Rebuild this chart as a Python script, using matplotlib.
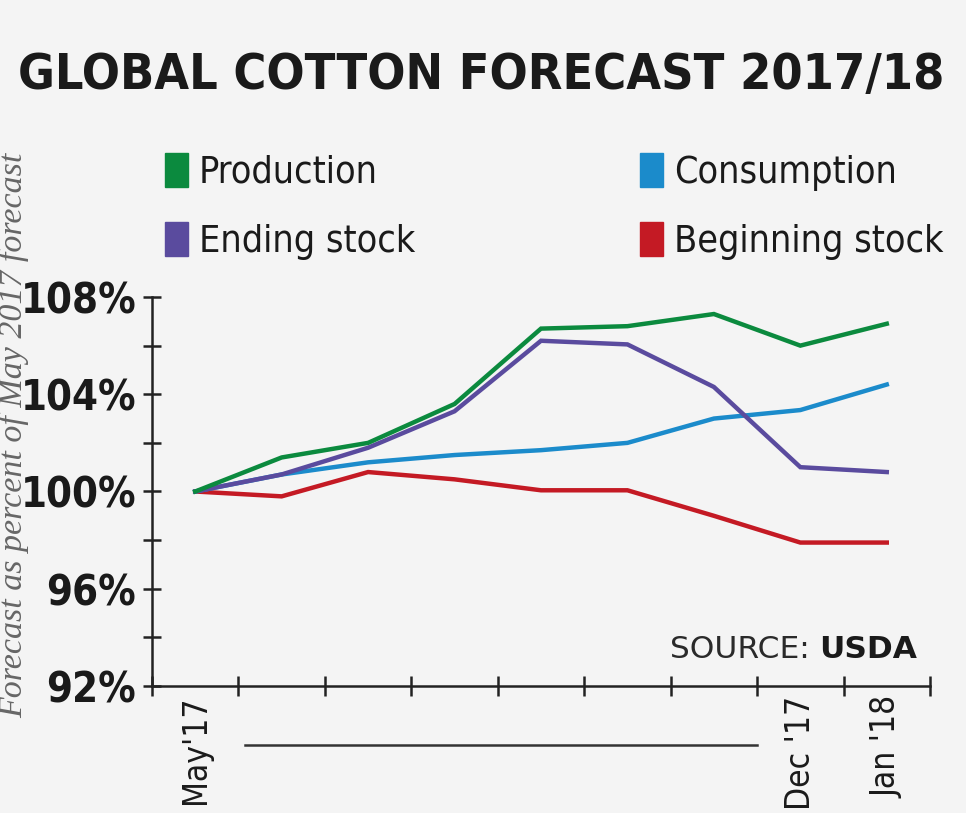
import matplotlib
matplotlib.use("Agg")
import matplotlib.pyplot as plt
from matplotlib.patches import Patch
from matplotlib.ticker import FixedLocator
import matplotlib.transforms as mtransforms

months = ["May'17", "Jun'17", "Jul'17", "Aug'17", "Sep'17", "Oct'17", "Nov'17", "Dec '17", "Jan '18"]
shown_labels = {0: "May'17", 7: "Dec '17", 8: "Jan '18"}

production = [100.0, 101.4, 102.0, 103.6, 106.7, 106.8, 107.3, 106.0, 106.9]
consumption = [100.0, 100.7, 101.2, 101.5, 101.7, 102.0, 103.0, 103.35, 104.4]
ending_stock = [100.0, 100.7, 101.8, 103.3, 106.2, 106.05, 104.3, 101.0, 100.8]
beginning_stock = [100.0, 99.8, 100.8, 100.5, 100.05, 100.05, 99.0, 97.9, 97.9]

colors = {"Production": "#0b8a3e", "Consumption": "#1b8bcb",
          "Ending stock": "#5a4b9e", "Beginning stock": "#c41a24"}

y_major = [92, 96, 100, 104, 108]
y_minor = [94, 98, 102, 106]

NARROW = "DejaVu Sans"
ST = "condensed"
BG = "#f4f4f4"

fig = plt.figure(figsize=(9.66, 8.13), dpi=100, facecolor=BG)
ax = fig.add_axes([152/966, 1-686/813, (930-152)/966, (686-297)/813])
ax.set_facecolor(BG)

x = list(range(len(months)))
data = {"Production": production, "Consumption": consumption,
        "Ending stock": ending_stock, "Beginning stock": beginning_stock}
for name in ["Beginning stock", "Consumption", "Ending stock", "Production"]:
    ax.plot(x, data[name], color=colors[name], lw=3.2, solid_joinstyle="miter", zorder=3)

ax.set_xlim(-0.5, len(months) - 0.5)
ax.set_ylim(92, 108)

for s in ["top", "right"]:
    ax.spines[s].set_visible(False)
for s in ["left", "bottom"]:
    ax.spines[s].set_linewidth(1.8)
    ax.spines[s].set_color("#222222")

ax.set_yticks(y_major)
ax.set_yticklabels([f"{v}%" for v in y_major])
ax.yaxis.set_minor_locator(FixedLocator(y_minor))
ax.tick_params(axis="y", which="both", direction="inout", length=13, width=1.8,
               color="#222222", pad=5)
for lab in ax.get_yticklabels():
    lab.set_fontfamily(NARROW)
    lab.set_fontstretch(ST)
    lab.set_fontweight("bold")
    lab.set_fontsize(30)
    lab.set_color("#1a1a1a")

bounds = [i - 0.5 for i in range(len(months) + 1)]
ax.set_xticks(bounds)
ax.set_xticklabels([""] * len(bounds))
ax.tick_params(axis="x", which="major", direction="inout", length=14, width=1.8, color="#222222")
pos = sorted(shown_labels)
ax.set_xticks(pos, minor=True)
ax.set_xticklabels([shown_labels[p] for p in pos], minor=True, rotation=90,
                   fontfamily=NARROW, fontstretch=ST, fontsize=24, color="#1a1a1a",
                   va="top", ha="center")
ax.tick_params(axis="x", which="minor", length=0, pad=7)

trans = mtransforms.blended_transform_factory(ax.transData, fig.transFigure)
ax.plot([0.58, 6.5], [1-745/813, 1-745/813], transform=trans, color="#333333",
        lw=1.8, clip_on=False)

fig.text(481/966, 1-75/813, "GLOBAL COTTON FORECAST 2017/18", ha="center", va="center",
         fontfamily=NARROW, fontstretch=ST, fontweight="bold", fontsize=36, color="#1a1a1a")

fig.text(14/966, 1-435/813, "Forecast as percent of May 2017 forecast", rotation=90,
         ha="center", va="center", fontfamily=["Liberation Serif", "DejaVu Serif"],
         style="italic", fontsize=24.5, color="#666666")

order = ["Production", "Ending stock", "Consumption", "Beginning stock"]
handles = [Patch(facecolor=colors[n], edgecolor=colors[n], label=n) for n in order]
leg = fig.legend(handles=handles, ncol=2, loc="upper left",
                 bbox_to_anchor=(165/966, 1-153/813), frameon=False,
                 prop={"family": NARROW, "stretch": ST, "size": 27},
                 handlelength=0.6, handleheight=1.0, handletextpad=0.3,
                 columnspacing=6.0, labelspacing=0.85, borderaxespad=0, borderpad=0)
for t in leg.get_texts():
    t.set_color("#1a1a1a")

t1 = ax.text(670/966, 1-658/813, "SOURCE: ", transform=fig.transFigure, ha="left",
             va="baseline", fontsize=22.5, color="#2a2a2a", fontfamily="DejaVu Sans")
ax.annotate("USDA", xy=(1, 0), xycoords=t1, ha="left", va="bottom", fontsize=22.5,
            fontweight="bold", color="#1a1a1a", fontfamily="DejaVu Sans")

fig.savefig("out.png", dpi=100, facecolor=BG)
